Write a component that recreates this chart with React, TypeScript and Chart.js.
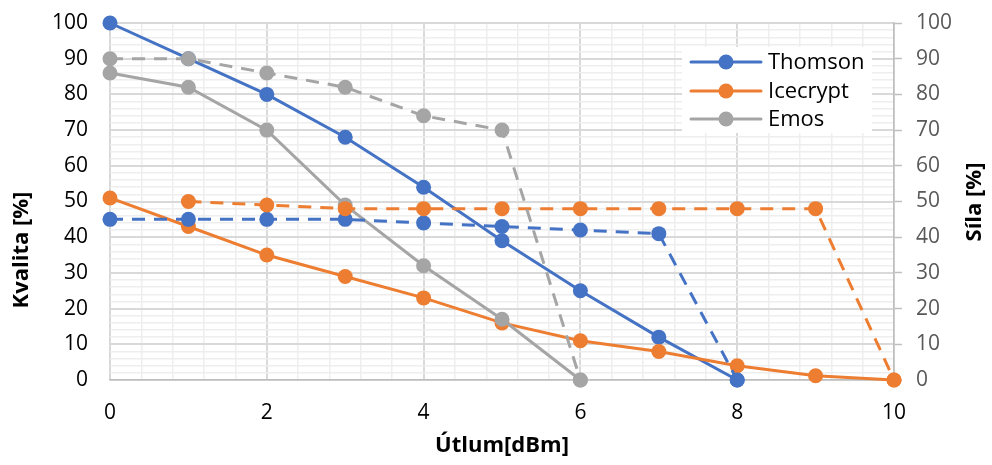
import React, { useEffect, useRef } from 'react';
import { Chart, registerables } from 'chart.js';

Chart.register(...registerables);

// ---- data ----
const thomsonQualityX = [0, 1, 2, 3, 4, 5, 6, 7, 8];
const thomsonQuality = [100, 90, 80, 68, 54, 39, 25, 12, 0];
const icecryptQualityX = [0, 1, 2, 3, 4, 5, 6, 7, 8, 9, 10];
const icecryptQuality = [51, 43, 35, 29, 23, 16, 11, 8, 4, 1.2, 0];
const emosQualityX = [0, 1, 2, 3, 4, 5, 6];
const emosQuality = [86, 82, 70, 49, 32, 17, 0];

const thomsonStrengthX = [0, 1, 2, 3, 4, 5, 6, 7, 8];
const thomsonStrength = [45, 45, 45, 45, 44, 43, 42, 41, 0];
const icecryptStrengthX = [1, 2, 3, 4, 5, 6, 7, 8, 9, 10];
const icecryptStrength = [50, 49, 48, 48, 48, 48, 48, 48, 48, 0];
const emosStrengthX = [0, 1, 2, 3, 4, 5, 6];
const emosStrength = [90, 90, 86, 82, 74, 70, 0];

const seriesNames = ['Thomson', 'Icecrypt', 'Emos'];
const seriesColors = ['#4472C4', '#ED7D31', '#A5A5A5'];

const xMajorTicks = [0, 2, 4, 6, 8, 10];
const xMinorCount = 25; // 0.4 spacing from 0 to 10
const yTicks = [0, 10, 20, 30, 40, 50, 60, 70, 80, 90, 100];

const xTitle = 'Útlum[dBm]';
const yLeftTitle = 'Kvalita [%]';
const yRightTitle = 'Síla [%]';

const FONT = '"Open Sans", "Noto Sans", sans-serif';

const pts = (xs: number[], ys: number[]) => xs.map((x, i) => ({ x, y: ys[i] }));
const near = (v: number, step: number) => Math.abs(v / step - Math.round(v / step)) < 1e-6;

const overlayPlugin = {
  id: 'overlay',
  afterDraw(chart: any) {
    const ctx = chart.ctx as CanvasRenderingContext2D;
    ctx.save();
    ctx.fillStyle = '#000';
    ctx.font = `bold 22px ${FONT}`;
    ctx.textAlign = 'center';
    ctx.textBaseline = 'middle';
    ctx.fillText(xTitle, (chart.chartArea.left + chart.chartArea.right) / 2, 446);

    ctx.save();
    ctx.translate(22, 250);
    ctx.rotate(-Math.PI / 2);
    ctx.fillText(yLeftTitle, 0, 0);
    ctx.restore();

    ctx.save();
    ctx.translate(975, 202);
    ctx.rotate(-Math.PI / 2);
    ctx.fillText(yRightTitle, 0, 0);
    ctx.restore();

    // legend box inside plot
    ctx.fillStyle = '#ffffff';
    ctx.fillRect(682, 47, 190, 86);
    const rows = [62, 91, 119];
    seriesNames.forEach((name, i) => {
      const y = rows[i];
      ctx.strokeStyle = seriesColors[i];
      ctx.lineWidth = 3;
      ctx.lineCap = 'round';
      ctx.beginPath();
      ctx.moveTo(691, y);
      ctx.lineTo(761, y);
      ctx.stroke();
      ctx.fillStyle = seriesColors[i];
      ctx.beginPath();
      ctx.arc(726, y, 7.5, 0, Math.PI * 2);
      ctx.fill();
      ctx.fillStyle = '#000';
      ctx.font = `22px ${FONT}`;
      ctx.textAlign = 'left';
      ctx.textBaseline = 'middle';
      ctx.fillText(name, 768, y + 1);
    });
    ctx.restore();
  },
};

export default function App() {
  const canvasRef = useRef<HTMLCanvasElement | null>(null);

  useEffect(() => {
    document.body.style.margin = '0';
    const canvas = canvasRef.current;
    if (!canvas) return;

    const solid = (i: number, data: any[], order: number) => ({
      label: seriesNames[i],
      data,
      yAxisID: 'y',
      borderColor: seriesColors[i],
      backgroundColor: seriesColors[i],
      borderWidth: 3,
      pointRadius: 7.5,
      pointHoverRadius: 7.5,
      pointBorderWidth: 0,
      pointBackgroundColor: seriesColors[i],
      tension: 0,
      clip: false as any,
      order,
    });
    const dashed = (i: number, data: any[], order: number) => ({
      ...solid(i, data, order),
      label: seriesNames[i] + ' (síla)',
      yAxisID: 'y1',
      borderDash: [13, 9],
    });

    const chart = new Chart(canvas, {
      type: 'line',
      data: {
        datasets: [
          solid(0, pts(thomsonQualityX, thomsonQuality), 6),
          solid(1, pts(icecryptQualityX, icecryptQuality), 5),
          solid(2, pts(emosQualityX, emosQuality), 4),
          dashed(0, pts(thomsonStrengthX, thomsonStrength), 3),
          dashed(1, pts(icecryptStrengthX, icecryptStrength), 2),
          dashed(2, pts(emosStrengthX, emosStrength), 1),
        ] as any,
      },
      options: {
        responsive: false,
        animation: false,
        events: [],
        layout: { padding: { top: 23, left: 0, right: 0, bottom: 0 } },
        plugins: {
          legend: { display: false },
          tooltip: { enabled: false },
          title: { display: false },
        },
        scales: {
          x: {
            type: 'linear',
            min: 0,
            max: 10,
            afterBuildTicks: (scale: any) => {
              const arr = [];
              for (let i = 0; i <= xMinorCount; i++) arr.push({ value: (i * 10) / xMinorCount });
              scale.ticks = arr;
            },
            afterFit: (scale: any) => {
              scale.height = 85;
              scale.paddingLeft = 10;
              scale.paddingRight = 10;
            },
            grid: {
              drawTicks: false,
              color: (c: any) => (near(c.tick.value, 2) ? '#d9d9d9' : '#eeeeee'),
              lineWidth: (c: any) => (near(c.tick.value, 2) ? 2 : 1.5),
            },
            border: { display: true, color: '#bfbfbf', width: 1.5 },
            ticks: {
              autoSkip: false,
              maxRotation: 0,
              padding: 20,
              color: '#000',
              font: { family: FONT, size: 21 },
              callback: (v: any) => {
                const n = Number(v);
                return xMajorTicks.some((t) => Math.abs(t - n) < 1e-6) ? String(Math.round(n)) : '';
              },
            },
          },
          y: {
            type: 'linear',
            position: 'left',
            min: 0,
            max: 100,
            afterFit: (scale: any) => {
              scale.width = 110;
              scale.paddingTop = 12;
              scale.paddingBottom = 12;
            },
            grid: {
              drawTicks: false,
              color: (c: any) => (near(c.tick.value, 10) ? '#d9d9d9' : '#eeeeee'),
              lineWidth: (c: any) => (near(c.tick.value, 10) ? 2 : 1.5),
            },
            border: { display: false },
            ticks: {
              stepSize: 2,
              autoSkip: false,
              padding: 22,
              color: '#000',
              font: { family: FONT, size: 21 },
              callback: (v: any) => {
                const n = Number(v);
                return yTicks.includes(n) ? String(n) : '';
              },
            },
          },
          y1: {
            type: 'linear',
            position: 'right',
            min: 0,
            max: 100,
            afterFit: (scale: any) => {
              scale.width = 98;
              scale.paddingTop = 12;
              scale.paddingBottom = 12;
            },
            grid: {
              drawOnChartArea: false,
              drawTicks: true,
              tickLength: 8,
              tickColor: '#bfbfbf',
              tickWidth: 1.5,
            },
            border: { display: true, color: '#bfbfbf', width: 1.5 },
            ticks: {
              stepSize: 10,
              padding: 14,
              color: '#595959',
              font: { family: FONT, size: 21 },
              callback: (v: any) => (yTicks.includes(Number(v)) ? String(v) : ''),
            },
          },
        },
      } as any,
      plugins: [overlayPlugin],
    });

    return () => chart.destroy();
  }, []);

  return (
    <div style={{ width: 992, height: 465, background: '#fff' }}>
      <canvas ref={canvasRef} width={992} height={465} style={{ display: 'block' }} />
    </div>
  );
}
